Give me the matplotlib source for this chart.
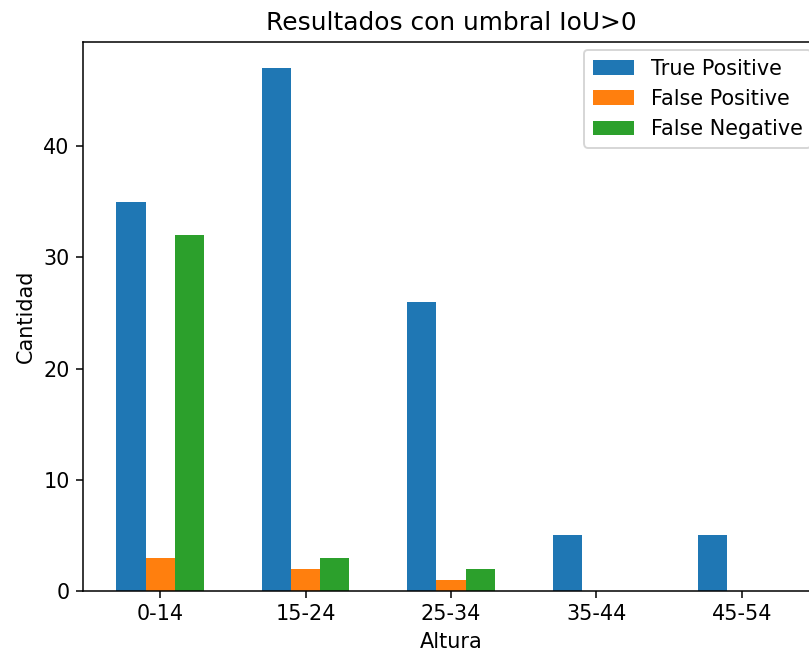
import numpy as np
import matplotlib
matplotlib.use("Agg")
import matplotlib.pyplot as plt

# datos
alturas = ["0-14", "15-24", "25-34", "35-44", "45-54"]
true_pos = [35, 47, 26, 5, 5]
false_pos = [3, 2, 1, 0, 0]
false_neg = [32, 3, 2, 0, 0]

DPI = 138
plt.rcParams["font.size"] = 10.8
fig = plt.figure(figsize=(809 / DPI, 654 / DPI), dpi=DPI)
# el original esta recortado por la derecha: el eje sale del lienzo
ax = fig.add_axes([83 / 809, 63 / 654, 736 / 809, 549 / 654])

x = np.arange(len(alturas))
w = 0.2
ax.bar(x - w, true_pos, w, label="True Positive")
ax.bar(x, false_pos, w, label="False Positive")
ax.bar(x + w, false_neg, w, label="False Negative")

ax.set_xticks(x)
ax.set_xticklabels(alturas)
ax.set_xlabel("Altura")
ax.set_ylabel("Cantidad")
ax.set_title("Resultados con umbral IoU>0")
ax.legend(loc="upper right", borderaxespad=0.4)

fig.savefig("out.png", dpi=DPI)
